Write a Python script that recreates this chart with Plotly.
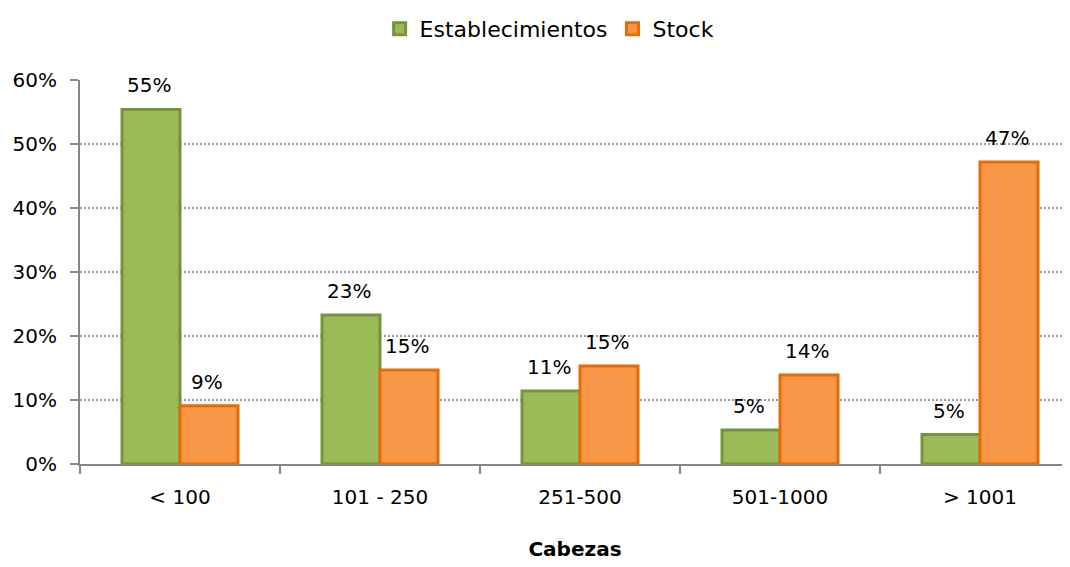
import plotly.graph_objects as go

categories = ["< 100", "101 - 250", "251-500", "501-1000", "> 1001"]
establecimientos = [55.4, 23.3, 11.4, 5.3, 4.6]
stock = [9.1, 14.7, 15.3, 13.9, 47.2]
y_ticks = [0, 10, 20, 30, 40, 50, 60]
y_tick_labels = ["0%", "10%", "20%", "30%", "40%", "50%", "60%"]

FONT = "DejaVu Sans"

fig = go.Figure()
fig.add_trace(go.Bar(
    name="Establecimientos", x=categories, y=establecimientos,
    marker=dict(color="#9BBB59", line=dict(color="#77933C", width=3)),
))
fig.add_trace(go.Bar(
    name="Stock", x=categories, y=stock,
    marker=dict(color="#F79646", line=dict(color="#E46C0A", width=3)),
))

annotations = []
for vals, shift in ((establecimientos, -29), (stock, 29)):
    for c, v in zip(categories, vals):
        annotations.append(dict(
            x=c, y=v, xref="x", yref="y", text=f"{round(v)}%",
            showarrow=False, xshift=shift - 2, yshift=10, yanchor="bottom",
            font=dict(family=FONT, size=20, color="#000000"),
        ))

fig.update_layout(
    width=1062, height=559,
    margin=dict(l=72, r=0, t=72, b=103),
    paper_bgcolor="white", plot_bgcolor="white",
    barmode="group", bargap=0.42, bargroupgap=0,
    font=dict(family=FONT, size=20, color="#000000"),
    showlegend=True,
    legend=dict(orientation="h", x=0.51, xanchor="center", xref="container",
                y=1.0, yanchor="top", yref="container",
                font=dict(family=FONT, size=22), itemwidth=30,
                traceorder="normal"),
    annotations=annotations,
)
fig.update_xaxes(
    range=[-0.5, 4.45], tickson="boundaries", ticks="outside", ticklen=8,
    tickcolor="#868686", tickwidth=2,
    showline=True, linecolor="#868686", linewidth=2,
    showgrid=False, ticklabelstandoff=14,
    tickfont=dict(family=FONT, size=20),
    title=dict(text="<b>Cabezas</b>", font=dict(family=FONT, size=20), standoff=34),
)
fig.update_yaxes(
    range=[0, 60], tickvals=y_ticks, ticktext=y_tick_labels,
    ticks="outside", ticklen=8, tickcolor="#868686", tickwidth=2,
    showline=True, linecolor="#868686", linewidth=2,
    showgrid=True, gridcolor="#999999", griddash="2px,2px", gridwidth=1.5,
    zeroline=False, ticklabelstandoff=9,
    tickfont=dict(family=FONT, size=20),
)

fig.write_html("out.html")
